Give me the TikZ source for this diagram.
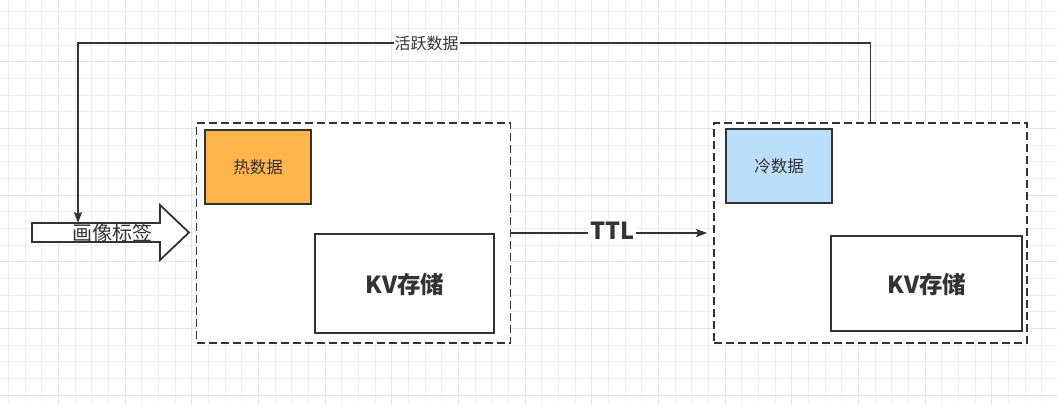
\documentclass[tikz,border=0pt]{standalone}
\usepackage{fontspec}
\newfontfamily\cjk{Noto Sans CJK SC}
\usetikzlibrary{arrows.meta}
\definecolor{ink}{HTML}{333333}
\definecolor{gridminor}{HTML}{EFEFEF}
\definecolor{gridmajor}{HTML}{E3E3E3}
\definecolor{hotfill}{HTML}{FFB549}
\definecolor{coldfill}{HTML}{BBDEFB}
\tikzset{
  box/.style={draw=ink, line width=1.8pt, fill=white, inner sep=0pt},
  container/.style={draw=ink, line width=1.8pt, fill=white, dash pattern=on 8pt off 4pt, inner sep=0pt},
  conn/.style={draw=ink, line width=1.6pt, -{Stealth[length=11pt,width=8pt,inset=2pt]}},
  lab/.style={fill=white, inner sep=1pt, text=ink, font=\cjk\fontsize{16}{19}\selectfont},
  big/.style={text=ink, font=\cjk\bfseries\fontsize{23.5}{27}\selectfont},
}
\begin{document}
\begin{tikzpicture}[x=1pt,y=-1pt]
\fill[white] (0,0) rectangle (1057,405);
\useasboundingbox (0,0) rectangle (1057,405);
% grid
\foreach \i in {0,...,62}{
  \pgfmathtruncatemacro{\m}{mod(\i,4)}
  \ifnum\m=3 \def\gc{gridmajor}\else\def\gc{gridminor}\fi
  \draw[\gc, line width=0.8pt] ({8.3+16.67*\i},0) -- ({8.3+16.67*\i},405);
}
\foreach \j in {0,...,23}{
  \pgfmathtruncatemacro{\m}{mod(\j,4)}
  \ifnum\m=3 \def\gc{gridmajor}\else\def\gc{gridminor}\fi
  \draw[\gc, line width=0.8pt] (0,{11.7+16.67*\j}) -- (1057,{11.7+16.67*\j});
}
% containers
\node[container, minimum width=314pt, minimum height=220pt] (lc) at (353.5,233) {};
\node[container, minimum width=313pt, minimum height=220pt] (rc) at (870.5,233) {};
% inner boxes
\node[box, fill=hotfill, minimum width=106pt, minimum height=74pt, text=ink,
      font=\cjk\fontsize{16.5}{19}\selectfont] (hot) at (258,167) {热数据};
\node[box, minimum width=179pt, minimum height=99pt] (lkv) at (404.5,283.5) {};
\node[big] at (405,285) {KV存储};
\node[box, fill=coldfill, minimum width=106pt, minimum height=74pt, text=ink,
      font=\cjk\fontsize{16.5}{19}\selectfont] (cold) at (779,166) {冷数据};
\node[box, minimum width=191pt, minimum height=95pt] (rkv) at (926.5,283.5) {};
\node[big] at (927,285) {KV存储};
% big input arrow
\draw[draw=ink, line width=1.8pt, fill=white, line join=miter]
  (32,223) -- (160,223) -- (160,205) -- (189,232.5) -- (160,260) -- (160,242) -- (32,242) -- cycle;
\node[text=ink, font=\cjk\fontsize{20}{23}\selectfont] (tag) at (112,233) {画像标签};
\coordinate (tagtop) at (78,223);
\coordinate (corner) at (78,43);
% TTL connector
\draw[conn, shorten >=6pt] (lc.east) -- node[fill=white, inner sep=2pt, big, yshift=2pt] {TTL} (rc.west);
% feedback connector
\draw[conn] (rc.north) |- node[lab, pos=0.78] {活跃数据} (corner) -- (tagtop);
\end{tikzpicture}
\end{document}
